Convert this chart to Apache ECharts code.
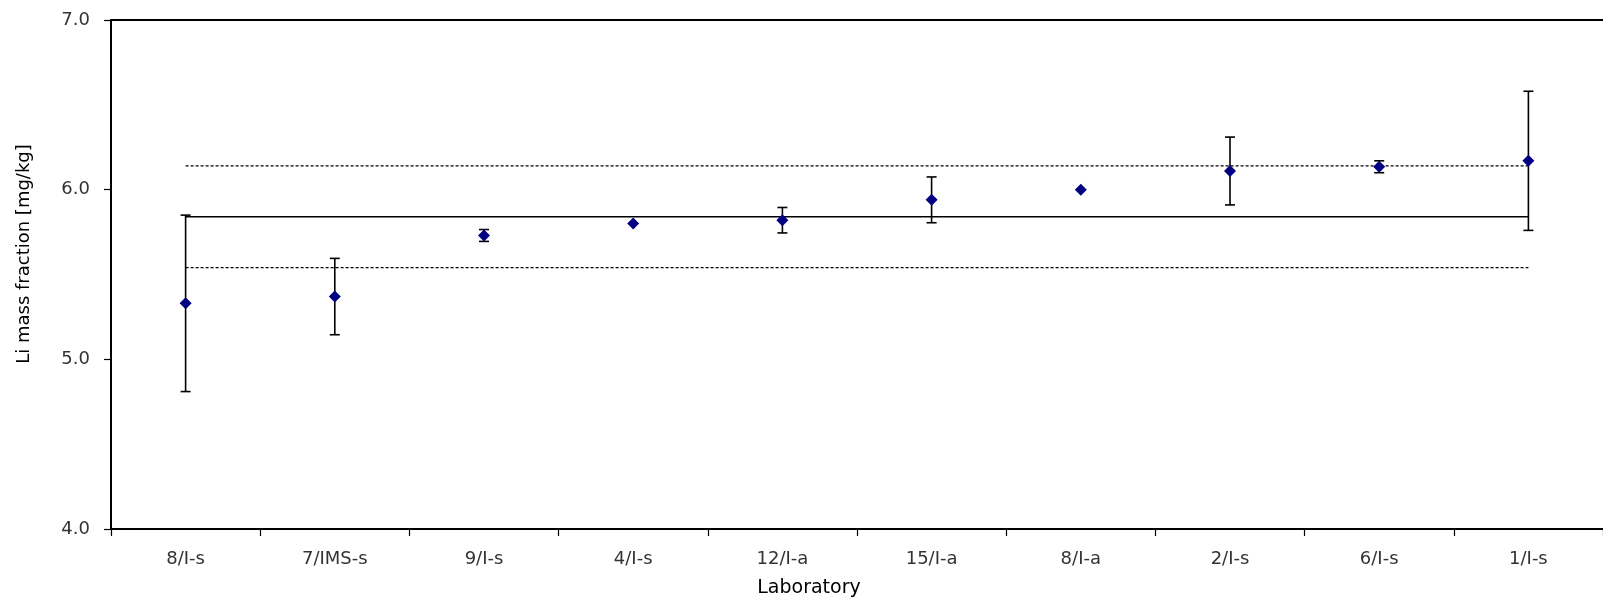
<!DOCTYPE html>
<html>
<head>
<meta charset="utf-8">
<script src="https://cdn.jsdelivr.net/npm/echarts@6/dist/echarts.min.js"></script>
<style>
html,body{margin:0;padding:0;background:#fff;}
#chart{width:1603px;height:600px;}
</style>
</head>
<body>
<div id="chart"></div>
<script>
// Data
var laboratories = ['8/I-s','7/IMS-s','9/I-s','4/I-s','12/I-a','15/I-a','8/I-a','2/I-s','6/I-s','1/I-s'];
var massFraction = [5.33, 5.37, 5.73, 5.80, 5.82, 5.94, 6.00, 6.11, 6.135, 6.17];
var uncertainty = [0.52, 0.225, 0.035, null, 0.075, 0.135, null, 0.20, 0.035, 0.41];
var meanValue = 5.84;
var upperLimit = 6.14;
var lowerLimit = 5.54;
var yTicks = [4.0, 5.0, 6.0, 7.0];

var fontFam = '"DejaVu Sans", sans-serif';
var errData = [];
for (var i = 0; i < laboratories.length; i++) {
  if (uncertainty[i] != null) {
    errData.push([i, massFraction[i] - uncertainty[i], massFraction[i] + uncertainty[i]]);
  }
}
function repeat(v) { return laboratories.map(function () { return v; }); }

var chart = echarts.init(document.getElementById('chart'));
chart.setOption({
  animation: false,
  backgroundColor: '#fff',
  grid: { left: 111, top: 20, width: 1494, height: 509 },
  xAxis: [{
    type: 'category',
    data: laboratories,
    boundaryGap: true,
    axisLine: { lineStyle: { color: '#000', width: 2 } },
    axisTick: { show: true, length: 7, inside: false, lineStyle: { color: '#000', width: 1.2 }, interval: 0 },
    axisLabel: { color: '#333', fontFamily: fontFam, fontSize: 18, margin: 21, interval: 0 },
    splitLine: { show: false }
  }, {
    type: 'category',
    data: laboratories,
    position: 'top',
    boundaryGap: true,
    axisLine: { show: true, lineStyle: { color: '#000', width: 2 } },
    axisTick: { show: false },
    axisLabel: { show: false },
    splitLine: { show: false }
  }],
  yAxis: {
    type: 'value',
    min: yTicks[0], max: yTicks[yTicks.length - 1], interval: 1,
    axisLine: { show: true, lineStyle: { color: '#000', width: 2 } },
    axisTick: { show: true, length: 7, lineStyle: { color: '#000', width: 1.2 } },
    axisLabel: { color: '#333', fontFamily: fontFam, fontSize: 18, margin: 21,
      formatter: function (v) { return v.toFixed(1); } },
    splitLine: { show: false }
  },
  graphic: [
    { type: 'text', x: 809, y: 588,
      style: { text: 'Laboratory', fill: '#000', font: '19px ' + fontFam,
        textAlign: 'center', textVerticalAlign: 'middle' } },
    { type: 'text', x: 24, y: 254, rotation: Math.PI / 2,
      style: { text: 'Li mass fraction [mg/kg]', fill: '#000', font: '18px ' + fontFam,
        textAlign: 'center', textVerticalAlign: 'middle' } }
  ],
  series: [
    { type: 'line', data: repeat(meanValue), symbol: 'none', z: 2,
      lineStyle: { color: '#000', width: 1.4 } },
    { type: 'line', data: repeat(upperLimit), symbol: 'none', z: 2,
      lineStyle: { color: '#000', width: 1.2, type: [3, 2] } },
    { type: 'line', data: repeat(lowerLimit), symbol: 'none', z: 2,
      lineStyle: { color: '#000', width: 1.2, type: [3, 2] } },
    { type: 'custom', z: 3, data: errData,
      renderItem: function (params, api) {
        var x = api.value(0);
        var lo = api.coord([x, api.value(1)]);
        var hi = api.coord([x, api.value(2)]);
        var hw = 5;
        var st = { stroke: '#000', lineWidth: 1.6 };
        return { type: 'group', children: [
          { type: 'line', shape: { x1: lo[0], y1: lo[1], x2: hi[0], y2: hi[1] }, style: st },
          { type: 'line', shape: { x1: lo[0] - hw, y1: lo[1], x2: lo[0] + hw, y2: lo[1] }, style: st },
          { type: 'line', shape: { x1: hi[0] - hw, y1: hi[1], x2: hi[0] + hw, y2: hi[1] }, style: st }
        ]};
      }
    },
    { type: 'scatter', z: 4, data: massFraction, symbol: 'diamond', symbolSize: [12, 12],
      itemStyle: { color: '#000080', opacity: 1 } }
  ]
});
</script>
</body>
</html>
